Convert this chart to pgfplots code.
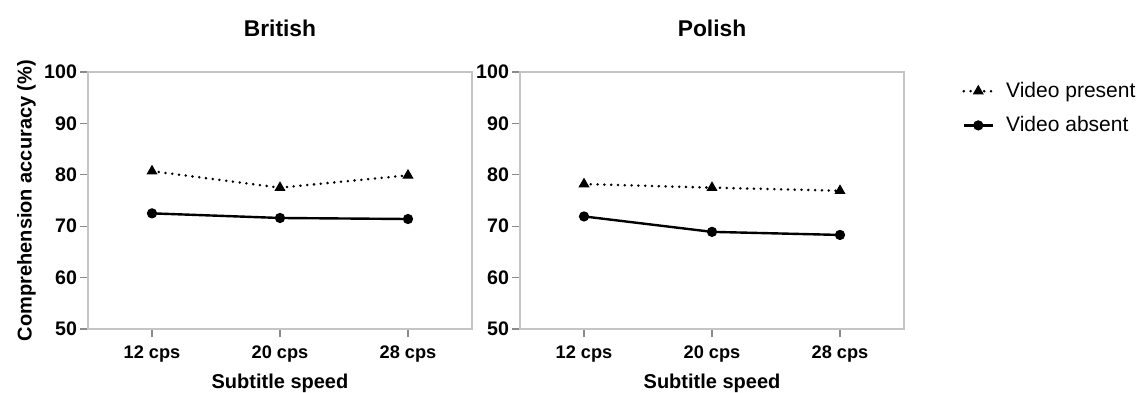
\documentclass[border=0pt]{standalone}
\usepackage{pgfplots}
\pgfplotsset{compat=1.18}
\usepackage{fontspec}
\setmainfont{Liberation Sans}
\definecolor{axgray}{HTML}{C4C4C4}
\definecolor{tickgray}{HTML}{8A8A8A}
\pgfplotsset{
  panel/.style={
    scale only axis,
    width=192pt, height=128.5pt,
    xmin=-0.5, xmax=2.5, ymin=50, ymax=100,
    xtick={0,1,2}, xticklabels={12 cps,20 cps,28 cps},
    ytick={50,60,70,80,90,100},
    xtick pos=bottom, ytick pos=left,
    tick align=outside,
    major tick length=4pt,
    axis line style={axgray, line width=0.6pt},
    every tick/.style={tickgray, line width=0.6pt},
    /pgf/number format/assume math mode=true,
    xticklabel style={font=\fontsize{9.1}{10}\selectfont\bfseries, black, yshift=-1pt},
    yticklabel style={font=\fontsize{9.8}{11}\selectfont\bfseries, black, xshift=2pt},
    label style={font=\fontsize{10}{12}\selectfont\bfseries},
    title style={font=\fontsize{11.4}{13}\selectfont\bfseries, at={(0.5,1)}, anchor=center, yshift=16pt},
    xlabel style={at={(axis description cs:0.5,0)}, anchor=base, yshift=-29.5pt},
    clip=false,
  },
  pres/.style={black, line width=1.4pt, dash pattern=on 0pt off 3.4pt, line cap=round, mark=triangle*, mark size=2.7pt, mark options={solid, line width=0.5pt}},
  abs/.style={black, line width=1.2pt, solid, mark=*, mark size=2.3pt, mark options={line width=0.5pt}},
}
\begin{document}
\begin{tikzpicture}
\path[use as bounding box] (0,0) rectangle (570pt,196pt);
\begin{axis}[panel, at={(44pt,31.5pt)}, anchor=south west,
  title={British}, xlabel={Subtitle speed},
  ylabel={Comprehension accuracy (\%)},
  ylabel style={at={(axis description cs:-0.16,0.5)}, anchor=center}]
\addplot[pres] coordinates {(0,80.7) (1,77.5) (2,79.9)};
\addplot[abs] coordinates {(0,72.5) (1,71.6) (2,71.4)};
\end{axis}
\begin{axis}[panel, at={(260pt,31.5pt)}, anchor=south west,
  title={Polish}, xlabel={Subtitle speed},
  legend style={draw=none, fill=none, inner sep=0pt, at={(axis description cs:1.151,0.978)}, anchor=north west,
    font=\fontsize{10.5}{12.6}\selectfont, row sep=4pt,
    /tikz/every odd column/.append style={column sep=4pt}},
  legend cell align=left,
  legend image code/.code={\draw[#1, mark=none] (0pt,0pt) -- (14.5pt,0pt);
    \draw[#1] plot coordinates {(7.25pt,0pt)};}]
\addplot[pres] coordinates {(0,78.2) (1,77.5) (2,76.9)};
\addplot[abs] coordinates {(0,71.9) (1,68.9) (2,68.3)};
\legend{Video present, Video absent}
\end{axis}
\end{tikzpicture}
\end{document}
